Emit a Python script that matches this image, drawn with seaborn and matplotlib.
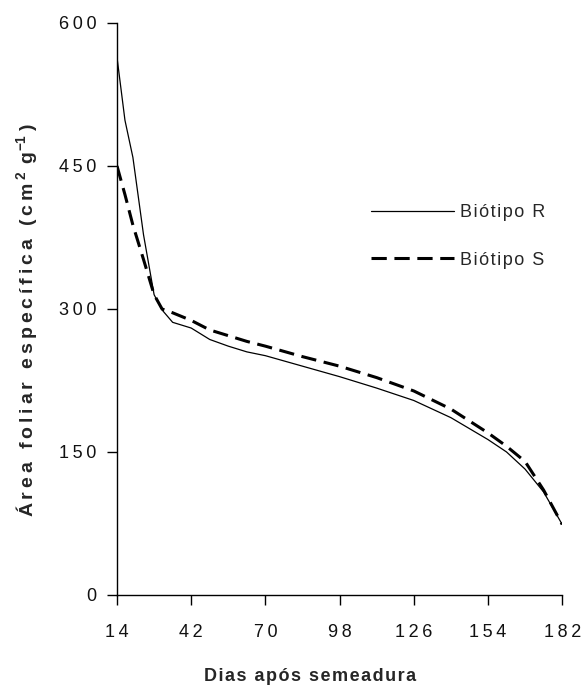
import numpy as np
import pandas as pd
import matplotlib
matplotlib.use("Agg")
import matplotlib.pyplot as plt
import seaborn as sns

# Days after sowing and specific leaf area for the two biotypes
dias = [14, 17, 20, 24, 28, 31, 35, 42, 49, 56, 63, 70, 84, 98, 112, 126,
        140, 154, 161, 168, 175, 182]
biotipo_r = [564, 498, 459, 378, 315, 299, 286, 280, 268, 261, 255, 251,
             240, 229, 217, 204, 186, 163, 150, 132, 108, 74]
biotipo_s = [450, 420, 388, 352, 315, 300, 296, 288, 278, 272, 266, 261,
             250, 240, 228, 214, 195, 170, 156, 140, 110, 74]

x_ticks = [14, 42, 70, 98, 126, 154, 182]
y_ticks = [0, 150, 300, 450, 600]

sns.set_theme(style="white")
plt.rcParams["font.family"] = ["Liberation Sans", "DejaVu Sans"]
plt.rcParams["mathtext.fontset"] = "custom"
plt.rcParams["mathtext.bf"] = "Liberation Sans:bold"
plt.rcParams["mathtext.rm"] = "Liberation Sans"

THIN = "\u2009"
HAIR = "\u200a"


def spaced(text, gap):
    return gap.join(text)


df_r = pd.DataFrame({"dias": dias, "afe": biotipo_r})
df_s = pd.DataFrame({"dias": dias, "afe": biotipo_s})

fig = plt.figure(figsize=(5.85, 6.86), dpi=100)
ax = fig.add_axes([0.2, 0.1327, 0.761, 0.8338])

sns.lineplot(data=df_r, x="dias", y="afe", ax=ax, color="black",
             linewidth=0.9, label=spaced("Biótipo R", HAIR))
sns.lineplot(data=df_s, x="dias", y="afe", ax=ax, color="black",
             linewidth=2.2, label=spaced("Biótipo S", HAIR))
ax.lines[1].set_dashes([5, 2.5])

ax.set_xlim(14, 182)
ax.set_ylim(0, 600)
ax.set_xticks(x_ticks)
ax.set_yticks(y_ticks)
ax.set_xticklabels([spaced(str(v), THIN) for v in x_ticks])
ax.set_yticklabels([spaced(str(v), THIN) for v in y_ticks])
ax.tick_params(axis="both", which="major", direction="out", length=7,
               width=1, color="black", labelsize=13, labelcolor="#111111",
               bottom=True, left=True)
ax.tick_params(axis="x", pad=14)
ax.tick_params(axis="y", pad=8)

for side in ["top", "right"]:
    ax.spines[side].set_visible(False)
for side in ["left", "bottom"]:
    ax.spines[side].set_color("black")
    ax.spines[side].set_linewidth(1.0)

ax.set_xlabel(spaced("Dias após semeadura", HAIR), fontsize=13,
              fontweight="bold")
ax.xaxis.set_label_coords(0.434, -0.1276)

ylabel = (spaced("Área foliar específica (cm", THIN) + THIN
          + r"$^{\mathbf{2}}$" + THIN * 2 + "g" + r"$^{\mathbf{-1}}$"
          + THIN + ")")
ax.set_ylabel(ylabel, fontsize=14, fontweight="bold")
ax.yaxis.set_label_coords(-0.171, 0.481)

leg = ax.legend(loc="upper left", bbox_to_anchor=(0.555, 0.696), frameon=False,
                fontsize=13, handlelength=4.6, handletextpad=0.3,
                labelspacing=1.7, borderaxespad=0)
for h in leg.get_lines():
    h.set_color("black")

fig.savefig("out.png", dpi=100, facecolor="white")
